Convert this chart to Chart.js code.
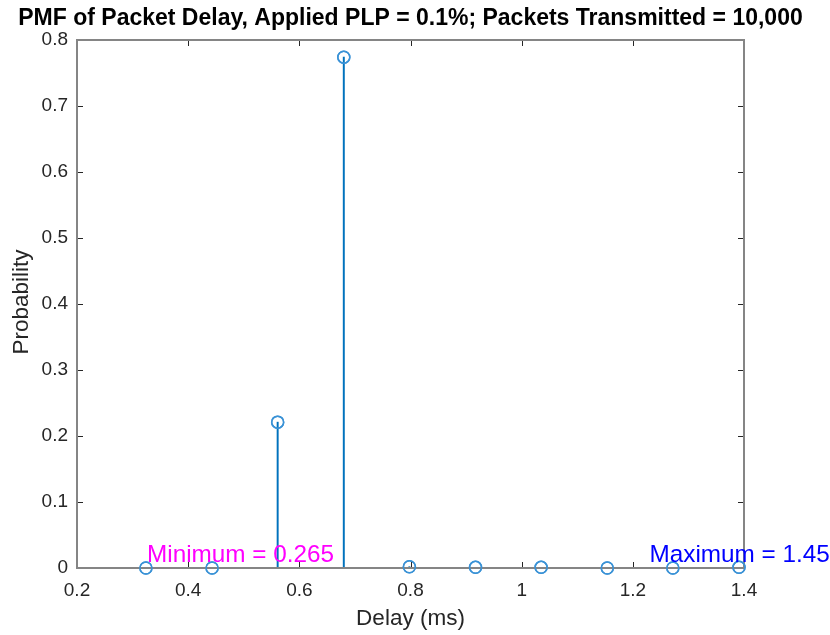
<!DOCTYPE html>
<html>
<head>
<meta charset="utf-8">
<script src="https://cdn.jsdelivr.net/npm/chart.js@4.4.1/dist/chart.umd.min.js"></script>
<style>
html,body{margin:0;padding:0;background:#fff;}
#wrap{width:830px;height:635px;position:relative;}
</style>
</head>
<body>
<div id="wrap"><canvas id="c" width="830" height="635"></canvas></div>
<script>
// Data
const delayBins = [0.324, 0.443, 0.561, 0.680, 0.798, 0.917, 1.035, 1.154, 1.272, 1.391];
const probability = [0.0, 0.0, 0.221, 0.774, 0.002, 0.001, 0.001, 0.0, 0.0, 0.001];
const xTicks = [0.2, 0.4, 0.6, 0.8, 1.0, 1.2, 1.4];
const yTicks = [0, 0.1, 0.2, 0.3, 0.4, 0.5, 0.6, 0.7, 0.8];
const titleText = 'PMF of Packet Delay, Applied PLP = 0.1%; Packets Transmitted = 10,000';
const xLabel = 'Delay (ms)';
const yLabel = 'Probability';
const annotations = [
  {text: 'Minimum = 0.265', x: 0.326, y: 0.009, color: '#FF00FF'},
  {text: 'Maximum = 1.45', x: 1.230, y: 0.009, color: '#0000FF'}
];

const pts = delayBins.map((x, i) => ({x: x, y: probability[i]}));
const FONT = '"Liberation Sans", Arial, Helvetica, sans-serif';
const STEM = '#0072BD';

const boxPlugin = {
  id: 'boxPlugin',
  afterDraw(chart) {
    const ctx = chart.ctx;
    const a = chart.chartArea;
    const xs = chart.scales.x, ys = chart.scales.y;
    ctx.save();
    // inward ticks
    ctx.strokeStyle = '#262626';
    ctx.lineWidth = 1;
    const tl = 6;
    xTicks.forEach(v => {
      const px = Math.round(xs.getPixelForValue(v)) + 0.5;
      ctx.beginPath();
      ctx.moveTo(px, a.bottom); ctx.lineTo(px, a.bottom - tl);
      ctx.moveTo(px, a.top); ctx.lineTo(px, a.top + tl);
      ctx.stroke();
    });
    yTicks.forEach(v => {
      const py = Math.round(ys.getPixelForValue(v)) + 0.5;
      ctx.beginPath();
      ctx.moveTo(a.left, py); ctx.lineTo(a.left + tl, py);
      ctx.moveTo(a.right, py); ctx.lineTo(a.right - tl, py);
      ctx.stroke();
    });
    // box
    ctx.strokeStyle = '#858585';
    ctx.lineWidth = 2;
    ctx.strokeRect(a.left, a.top, a.right - a.left, a.bottom - a.top);
    ctx.restore();

    // redraw markers on top of the box
    const meta = chart.getDatasetMeta(1);
    ctx.save();
    meta.data.forEach(el => el.draw(ctx));
    ctx.restore();

    // title
    ctx.save();
    ctx.fillStyle = '#000';
    ctx.font = 'bold 23px ' + FONT;
    ctx.textAlign = 'center';
    ctx.textBaseline = 'middle';
    ctx.fillText(titleText, (a.left + a.right) / 2, 19);
    // axis titles
    ctx.fillStyle = '#262626';
    ctx.font = '22.5px ' + FONT;
    ctx.fillText(xLabel, (a.left + a.right) / 2, 619);
    ctx.translate(22, 302);
    ctx.rotate(-Math.PI / 2);
    ctx.fillText(yLabel, 0, 0);
    ctx.restore();

    // annotations
    ctx.save();
    ctx.font = '24.3px ' + FONT;
    ctx.textAlign = 'left';
    ctx.textBaseline = 'alphabetic';
    annotations.forEach(t => {
      ctx.fillStyle = t.color;
      ctx.fillText(t.text, xs.getPixelForValue(t.x), ys.getPixelForValue(t.y));
    });
    ctx.restore();
  }
};

new Chart(document.getElementById('c'), {
  type: 'scatter',
  data: {
    datasets: [
      {
        type: 'bar',
        data: pts,
        backgroundColor: STEM,
        borderWidth: 0,
        barThickness: 1.3,
        clip: false,
        order: 2
      },
      {
        type: 'scatter',
        data: pts,
        pointStyle: 'circle',
        pointRadius: 6,
        pointBorderWidth: 1.5,
        borderColor: '#3a92d6',
        backgroundColor: 'rgba(0,0,0,0)',
        pointBackgroundColor: 'rgba(0,0,0,0)',
        showLine: false,
        clip: false,
        order: 1
      }
    ]
  },
  options: {
    responsive: false,
    animation: false,
    devicePixelRatio: 1,
    layout: {padding: {left: 0, right: 86, top: 40, bottom: 0}},
    plugins: {legend: {display: false}, tooltip: {enabled: false}, title: {display: false}},
    scales: {
      x: {
        type: 'linear',
        min: 0.2, max: 1.4,
        offset: false,
        afterFit(s) { s.height = 67; },
        afterBuildTicks(s) { s.ticks = xTicks.map(v => ({value: v})); },
        grid: {display: false, drawTicks: false, offset: false},
        border: {display: false},
        ticks: {
          padding: 11,
          color: '#262626',
          font: {family: FONT, size: 19},
          callback: v => String(Math.round(v * 10) / 10)
        }
      },
      y: {
        type: 'linear',
        min: 0, max: 0.8,
        afterFit(s) { s.width = 77; },
        afterBuildTicks(s) { s.ticks = yTicks.map(v => ({value: v})); },
        grid: {display: false, drawTicks: false},
        border: {display: false},
        ticks: {
          padding: 9,
          color: '#262626',
          font: {family: FONT, size: 19},
          callback: v => String(Math.round(v * 10) / 10)
        }
      }
    }
  },
  plugins: [boxPlugin]
});
</script>
</body>
</html>
